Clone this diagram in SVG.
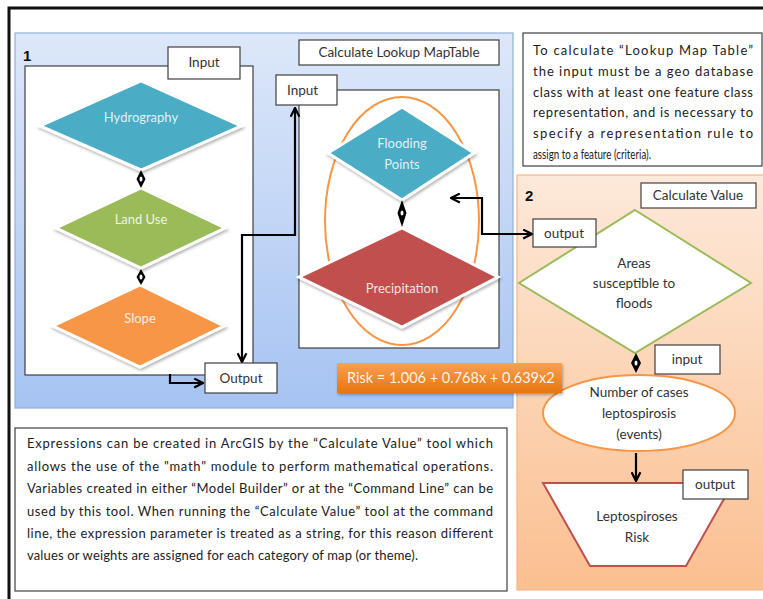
<svg xmlns="http://www.w3.org/2000/svg" width="763" height="599" viewBox="0 0 763 599">
<defs>
<linearGradient id="gBlue" x1="0" y1="0" x2="0" y2="1"><stop offset="0" stop-color="#dde8f9"/><stop offset="1" stop-color="#a6c3f2"/></linearGradient>
<linearGradient id="gPeach" x1="0" y1="0" x2="0" y2="1"><stop offset="0" stop-color="#fde9da"/><stop offset="1" stop-color="#fbbf90"/></linearGradient>
<linearGradient id="gRisk" x1="0" y1="0" x2="0" y2="1"><stop offset="0" stop-color="#f9a052"/><stop offset="1" stop-color="#e7750f"/></linearGradient>
<filter id="sh" x="-10%" y="-10%" width="120%" height="130%"><feDropShadow dx="1" dy="2" stdDeviation="1.5" flood-color="#000" flood-opacity="0.3"/></filter>
<marker id="ah" viewBox="0 0 10 10" refX="9" refY="5" markerWidth="5" markerHeight="5" orient="auto-start-reverse"><path d="M1,1 L9,5 L1,9" fill="none" stroke="#000" stroke-width="2"/></marker>
<style>
.lbl{font-family:Lato,"Open Sans",sans-serif;font-size:13.5px;fill:#333}
.dl{font-family:Lato,"Open Sans",sans-serif;font-size:13px;fill:#fff;fill-opacity:0.85;text-anchor:middle}
.dk{font-family:Lato,"Open Sans",sans-serif;font-size:13.5px;fill:#333;text-anchor:middle}
.box{fill:#fff;stroke:#404040;stroke-width:1.2}
.dia{stroke:#fff;stroke-width:3;filter:url(#sh)}
.con{fill:none;stroke:#000;stroke-width:2.2}
.para{font-family:Lato,"Open Sans",sans-serif;font-size:13px;fill:#222}
.num{font-family:"Liberation Sans",Arial,sans-serif;font-size:15px;font-weight:bold;fill:#111}
</style>
</defs>
<rect width="763" height="599" fill="#fff"/>
<path d="M9,599 V8 H763" fill="none" stroke="#111" stroke-width="3"/>

<g id="panel1">
<rect x="15" y="33" width="498" height="375" fill="url(#gBlue)" stroke="#8fb0dc" stroke-width="1.2"/>
<text x="23" y="61" class="num">1</text>
<rect x="25" y="66" width="228" height="309" class="box"/>
</g>

<g id="panel-lookup">
<rect x="299" y="90" width="200" height="258" class="box"/>
<ellipse cx="402" cy="221" rx="77" ry="124" fill="none" stroke="#f79646" stroke-width="2"/>
</g>

<g id="lookup-title"><rect x="299" y="40" width="200" height="25" class="box"/><text x="399" y="57" class="lbl" text-anchor="middle">Calculate Lookup MapTable</text></g>

<g id="note-top"><rect x="523" y="33" width="239" height="133" class="box"/>
<text class="para" x="533" y="55" textLength="220" lengthAdjust="spacing">To calculate “Lookup Map Table”</text>
<text class="para" x="533" y="76" textLength="220" lengthAdjust="spacing">the input must be a geo database</text>
<text class="para" x="533" y="97" textLength="220" lengthAdjust="spacing">class with at least one feature class</text>
<text class="para" x="533" y="117" textLength="220" lengthAdjust="spacing">representation, and is necessary to</text>
<text class="para" x="533" y="138" textLength="220" lengthAdjust="spacing">specify a representation rule to</text>
<text class="para" x="533" y="159" textLength="118" lengthAdjust="spacingAndGlyphs">assign to a feature (criteria).</text>
</g>

<g id="panel2">
<rect x="517" y="175" width="250" height="415" fill="url(#gPeach)" stroke="#f8b585" stroke-width="1.2"/>
<text x="525" y="201" class="num">2</text>
</g>

<g id="calc-value"><rect x="641" y="183" width="115" height="25" class="box"/><text x="698" y="200" class="lbl" text-anchor="middle">Calculate Value</text></g>

<g id="hydrography"><polygon points="141,81 241,126 141,170 40,126" class="dia" fill="#4bacc6"/><text x="141" y="122" class="dl">Hydrography</text></g>
<g id="landuse"><polygon points="141,188 225,228 141,268 56,228" class="dia" fill="#9bbb59"/><text x="141" y="224" class="dl">Land Use</text></g>
<g id="slope"><polygon points="140,285 224,326 140,367 53,326" class="dia" fill="#f79646"/><text x="140" y="323" class="dl">Slope</text></g>
<g id="flooding"><polygon points="402,107 474,153 402,200 328,153" class="dia" fill="#4bacc6"/><text x="402" y="148" class="dl">Flooding</text><text x="402" y="169" class="dl">Points</text></g>
<g id="precipitation"><polygon points="402,228 498,277 402,327 299,277" class="dia" fill="#c0504d"/><text x="402" y="293" class="dl">Precipitation</text></g>

<g id="areas"><polygon points="635,210 751,283 635,353 519,283" fill="#fff" stroke="#9bbb59" stroke-width="2"/><text x="634" y="268" class="dk">Areas</text><text x="634" y="288" class="dk">susceptible to</text><text x="634" y="308" class="dk">floods</text></g>
<g id="cases"><ellipse cx="639" cy="413" rx="96" ry="38" fill="#fff" stroke="#f79646" stroke-width="2"/><text x="639" y="397" class="dk">Number of cases</text><text x="639" y="418" class="dk">leptospirosis</text><text x="639" y="439" class="dk">(events)</text></g>
<g id="risk-out"><polygon points="543,483 733,483 686,566 590,566" fill="#fff" stroke="#c0504d" stroke-width="2"/><text x="637" y="521" class="dk">Leptospiroses</text><text x="637" y="542" class="dk">Risk</text></g>

<g id="risk-formula"><rect x="337" y="363" width="225" height="30" fill="url(#gRisk)" filter="url(#sh)"/><text x="347" y="383" font-family="Lato,'Open Sans',sans-serif" font-size="14.5" fill="#fff" fill-opacity="0.92">Risk = 1.006 + 0.768x + 0.639x2</text></g>

<g id="note-bottom"><rect x="15" y="428" width="492" height="163" class="box"/>
<text class="para" x="27" y="448" textLength="466" lengthAdjust="spacing">Expressions can be created in ArcGIS by the “Calculate Value” tool which</text>
<text class="para" x="27" y="471" textLength="466" lengthAdjust="spacing">allows the use of the "math" module to perform mathematical operations.</text>
<text class="para" x="27" y="493" textLength="466" lengthAdjust="spacing">Variables created in either “Model Builder” or at the “Command Line” can be</text>
<text class="para" x="27" y="516" textLength="466" lengthAdjust="spacing">used by this tool. When running the “Calculate Value” tool at the command</text>
<text class="para" x="27" y="538" textLength="466" lengthAdjust="spacing">line, the expression parameter is treated as a string, for this reason different</text>
<text class="para" x="27" y="560" textLength="391" lengthAdjust="spacing">values or weights are assigned for each category of map (or theme).</text>
</g>

<g id="connectors">
<path class="con" d="M242,362 V235 H295 V108" marker-start="url(#ah)" marker-end="url(#ah)"/>
<path class="con" d="M170,374 V383 H203" marker-end="url(#ah)"/>
<path class="con" d="M532,234 H482 V198 H451" marker-start="url(#ah)" marker-end="url(#ah)"/>
<path class="con" d="M636,453 V481" marker-end="url(#ah)"/>
<g fill="#000">
<polygon points="141,170 145.5,179 141,188 136.5,179"/>
<polygon points="141,269 145.5,277 141,285 136.5,277"/>
<polygon points="402,200 406.5,213 402,227 397.5,213"/>
<polygon points="636,353 641,363 636,373 631,363"/>
</g>
<g fill="#fff"><ellipse cx="141" cy="179" rx="1.5" ry="2.5"/><ellipse cx="141" cy="277" rx="1.5" ry="2.5"/><ellipse cx="402" cy="213" rx="1.5" ry="2.5"/><ellipse cx="636" cy="363" rx="1.5" ry="2.5"/></g>
</g>

<g id="input1"><rect x="168" y="47" width="72" height="32" class="box"/><text x="204" y="67" class="lbl" text-anchor="middle">Input</text></g>
<g id="input2"><rect x="276" y="75" width="61" height="30" class="box"/><text x="287" y="95" class="lbl">Input</text></g>
<g id="output1"><rect x="205" y="363" width="72" height="30" class="box"/><text x="241" y="383" class="lbl" text-anchor="middle">Output</text></g>
<g id="output2"><rect x="533" y="219" width="63" height="28" class="box"/><text x="564" y="238" class="lbl" text-anchor="middle">output</text></g>
<g id="input3"><rect x="655" y="345" width="65" height="29" class="box"/><text x="687" y="364" class="lbl" text-anchor="middle">input</text></g>
<g id="output3"><rect x="683" y="470" width="65" height="29" class="box"/><text x="715" y="489" class="lbl" text-anchor="middle">output</text></g>
</svg>
